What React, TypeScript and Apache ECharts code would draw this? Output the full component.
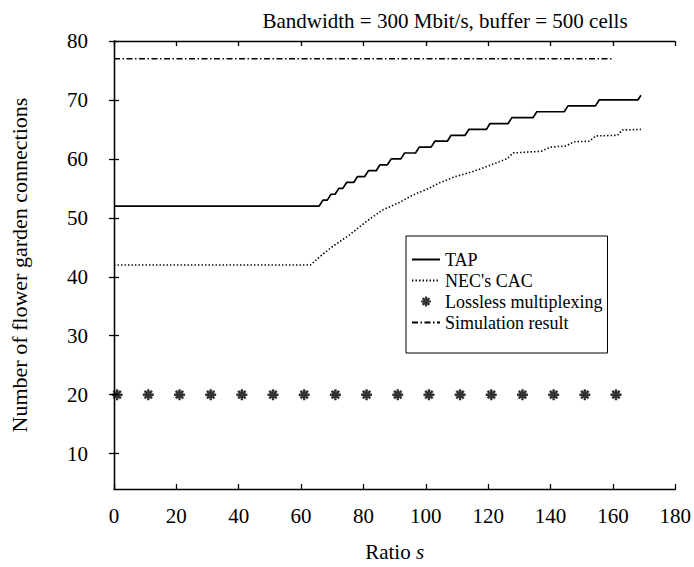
import React, { useEffect, useRef } from "react";
import * as echarts from "echarts";

const chartTitle = "Bandwidth = 300 Mbit/s, buffer = 500 cells";
const xAxisName = "Ratio {i|s}";
const yAxisName = "Number of flower garden connections";
const seriesNames = ["TAP", "NEC's CAC", "Lossless multiplexing", "Simulation result"];

const xTickValues = [0, 20, 40, 60, 80, 100, 120, 140, 160, 180];
const yTickValues = [10, 20, 30, 40, 50, 60, 70, 80];

// TAP (solid, staircase)
const tapRatio = [0, 65.8, 67, 68.4, 69.6, 70.9, 72.1, 73.4, 74.6, 76.9, 78.1, 80.4, 81.6, 84.1, 85.3, 87.7, 88.9, 92, 93.2, 96.7, 97.9, 101.7, 102.9, 106.9, 108.1, 112.6, 113.8, 119.4, 120.6, 126.4, 127.6, 134.4, 135.6, 144.4, 145.6, 154.4, 155.6, 168, 169];
const tapConn = [52, 52, 53, 53, 54, 54, 55, 55, 56, 56, 57, 57, 58, 58, 59, 59, 60, 60, 61, 61, 62, 62, 63, 63, 64, 64, 65, 65, 66, 66, 67, 67, 68, 68, 69, 69, 70, 70, 70.8];

// NEC's CAC (dotted)
const necRatio = [0, 63, 66, 70, 75.5, 81, 86, 91.5, 96, 101, 104.2, 109.5, 114.8, 120.1, 126, 128, 137, 140, 145, 147.5, 152.5, 154.5, 161.5, 163, 169];
const necConn = [42, 42, 43.4, 45.1, 47.1, 49.4, 51.3, 52.6, 53.9, 55, 55.9, 57, 57.8, 58.8, 60, 61, 61.3, 62, 62.2, 62.9, 63, 63.9, 64, 64.9, 65];

// Lossless multiplexing (star markers)
const losslessRatio = [1, 11, 21, 31, 41, 51, 61, 71, 81, 91, 101, 111, 121, 131, 141, 151, 161];
const losslessConn = [20, 20, 20, 20, 20, 20, 20, 20, 20, 20, 20, 20, 20, 20, 20, 20, 20];

// Simulation result (dash-dot)
const simRatio = [0, 160];
const simConn = [77, 77];

const starPath =
  "path://M0,3.9L10,3.9L10,6.1L0,6.1Z M3.9,0L6.1,0L6.1,10L3.9,10Z M0.8,2.4L2.4,0.8L9.2,7.6L7.6,9.2Z M7.6,0.8L9.2,2.4L2.4,9.2L0.8,7.6Z";

const FONT = "'Liberation Serif', 'Times New Roman', serif";

function zip(a: number[], b: number[]) {
  return a.map((v, i) => [v, b[i]]);
}

export default function App() {
  const ref = useRef<HTMLDivElement>(null);
  useEffect(() => {
    if (!ref.current) return;
    const chart = echarts.init(ref.current, undefined, { renderer: "svg" });
    const axisLine = { show: true, lineStyle: { color: "#000", width: 1.3 } };
    const tick = { show: true, inside: true, length: 5, lineStyle: { color: "#000", width: 1.3 } };
    const hideSymbol = { opacity: 0 };
    chart.setOption({
      animation: false,
      backgroundColor: "#fff",
      title: {
        text: chartTitle,
        left: 440,
        top: 5,
        textAlign: "center",
        textStyle: { fontFamily: FONT, fontSize: 21, fontWeight: "normal", color: "#000" },
      },
      grid: { left: 111, right: 18, top: 41, bottom: 78, containLabel: false },
      legend: {
        orient: "vertical",
        left: 406,
        top: 236,
        data: [
          { name: seriesNames[0], itemStyle: hideSymbol },
          { name: seriesNames[1], itemStyle: hideSymbol },
          { name: seriesNames[2] },
          { name: seriesNames[3], itemStyle: hideSymbol },
        ],
        backgroundColor: "#fff",
        borderColor: "#000",
        borderWidth: 1,
        borderRadius: 0,
        padding: [13, 5, 20, 5],
        itemGap: 0,
        itemWidth: 28,
        itemHeight: 10,
        textStyle: { fontFamily: FONT, fontSize: 18, color: "#000", lineHeight: 21 },
      },
      xAxis: [
        {
          type: "value",
          min: 0,
          max: 180,
          interval: 20,
          name: xAxisName,
          nameLocation: "middle",
          nameGap: 52,
          nameTextStyle: {
            fontFamily: FONT,
            fontSize: 21,
            color: "#000",
            rich: { i: { fontFamily: FONT, fontSize: 21, fontStyle: "italic", color: "#000" } },
          },
          axisLine,
          axisTick: tick,
          splitLine: { show: false },
          axisLabel: { fontFamily: FONT, fontSize: 21, color: "#000", margin: 16 },
        },
        {
          type: "value",
          position: "top",
          min: 0,
          max: 180,
          interval: 20,
          axisLine,
          axisTick: tick,
          splitLine: { show: false },
          axisLabel: { show: false },
        },
      ],
      yAxis: [
        {
          type: "value",
          min: 4,
          max: 80,
          name: yAxisName,
          nameLocation: "middle",
          nameGap: 84,
          nameRotate: 90,
          nameTextStyle: { fontFamily: FONT, fontSize: 22, color: "#000" },
          axisLine,
          axisTick: { ...tick, customValues: yTickValues },
          splitLine: { show: false },
          axisLabel: { fontFamily: FONT, fontSize: 21, color: "#000", margin: 26, customValues: yTickValues },
        },
        {
          type: "value",
          position: "right",
          min: 4,
          max: 80,
          axisLine,
          axisTick: { ...tick, customValues: yTickValues },
          splitLine: { show: false },
          axisLabel: { show: false, customValues: yTickValues },
        },
      ],
      series: [
        {
          name: seriesNames[0],
          type: "line",
          data: zip(tapRatio, tapConn),
          symbol: "none",
          lineStyle: { color: "#000", width: 1.7, type: "solid" },
          itemStyle: { color: "#000" },
        },
        {
          name: seriesNames[1],
          type: "line",
          data: zip(necRatio, necConn),
          symbol: "none",
          lineStyle: { color: "#000", width: 1.6, type: [1.4, 2.1] },
          itemStyle: { color: "#000" },
        },
        {
          name: seriesNames[2],
          type: "scatter",
          data: zip(losslessRatio, losslessConn),
          symbol: starPath,
          symbolSize: 11,
          itemStyle: { color: "#000" },
        },
        {
          name: seriesNames[3],
          type: "line",
          data: zip(simRatio, simConn),
          symbol: "none",
          lineStyle: { color: "#000", width: 1.4, type: [6, 2.5, 1.5, 2.5] },
          itemStyle: { color: "#000" },
        },
      ],
    });
    return () => chart.dispose();
  }, []);
  return (
    <div
      ref={ref}
      style={{ position: "fixed", left: 0, top: 0, width: 694, height: 567, overflow: "hidden" }}
    />
  );
}
